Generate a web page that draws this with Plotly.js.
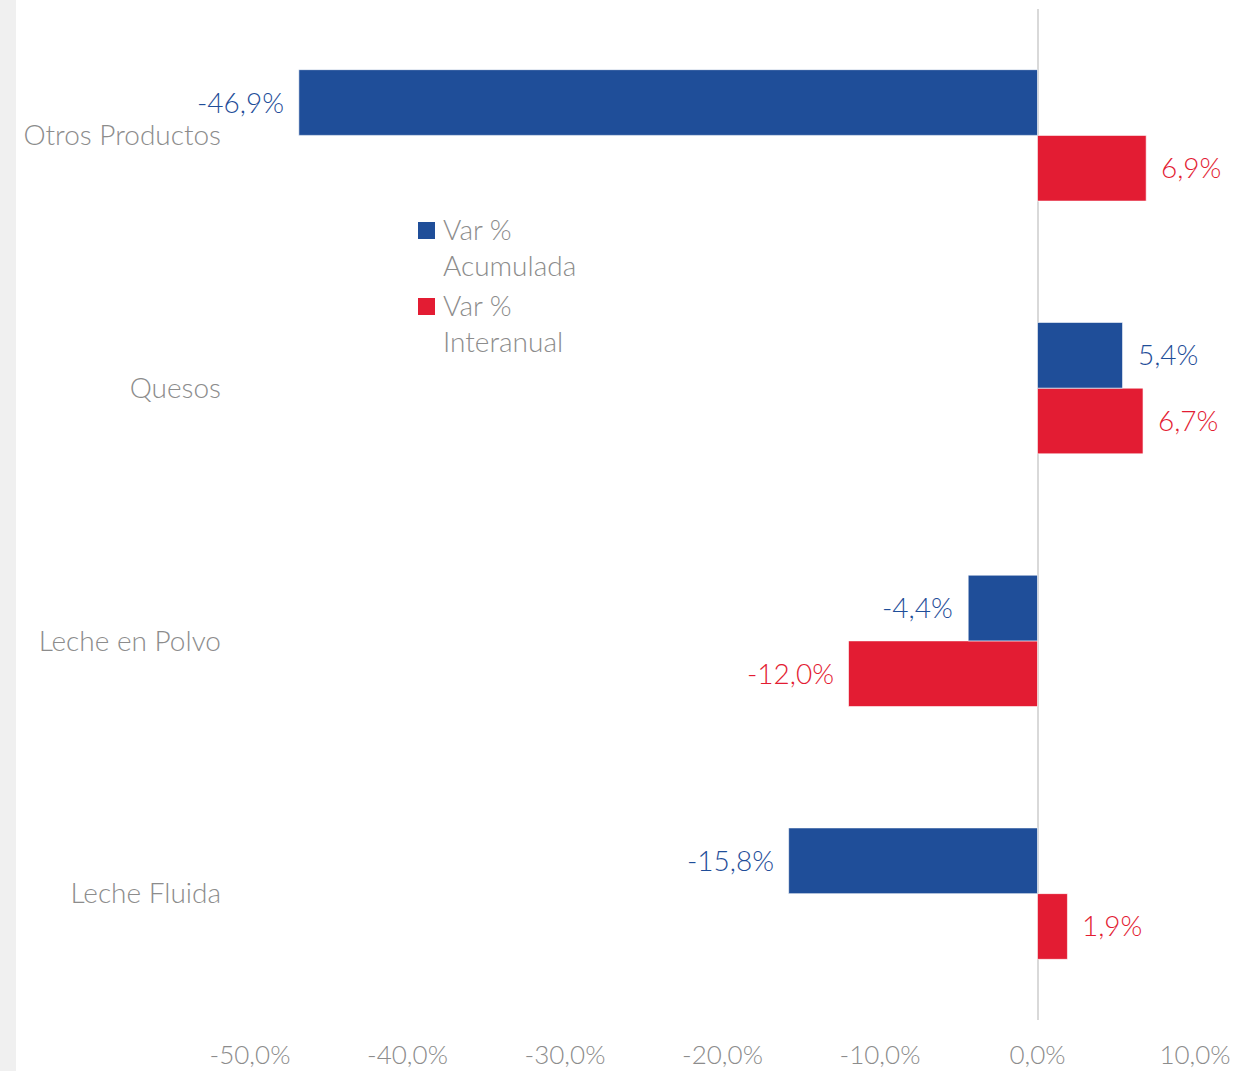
<!DOCTYPE html>
<html><head><meta charset="utf-8">
<script src="https://cdn.plot.ly/plotly-3.0.1.min.js"></script>
<style>
html,body{margin:0;padding:0;background:#fff;}
#strip{position:absolute;left:0;top:0;width:16px;height:1071px;background:#F0F0F0;z-index:2;}
#chart{position:absolute;left:0;top:0;width:1251px;height:1071px;}
</style></head>
<body>
<div id="strip"></div>
<div id="chart"></div>
<script>
const categories = ['Otros Productos', 'Quesos', 'Leche en Polvo', 'Leche Fluida'];
const varAcumulada = [-46.9, 5.4, -4.4, -15.8];
const varInteranual = [6.9, 6.7, -12.0, 1.9];
const seriesNames = ['Var %<br>Acumulada', 'Var %<br>Interanual'];
const colors = ['#1F4E99', '#E31C33'];
const xTicks = [-50, -40, -30, -20, -10, 0, 10];

const FONT = 'Lato, "Open Sans", sans-serif';
const GRAY = '#8C8C8C';
const bargap = 0.48;
const half = (1 - bargap) / 4;

const W = 1251, H = 1071;
const M = {l: 250, r: 56, t: 9, b: 51};

const yOrder = categories.slice().reverse();

function fmt(v){ return v.toFixed(1).replace('.', ',') + '%'; }

const traceRed = {
  type: 'bar', orientation: 'h', name: seriesNames[1],
  y: categories, x: varInteranual,
  marker: {color: colors[1], line: {color: 'rgba(255,255,255,0.6)', width: 1}},
  showlegend: false, hoverinfo: 'x'
};
const traceBlue = {
  type: 'bar', orientation: 'h', name: seriesNames[0],
  y: categories, x: varAcumulada,
  marker: {color: colors[0], line: {color: 'rgba(255,255,255,0.6)', width: 1}},
  showlegend: false, hoverinfo: 'x'
};

const annotations = [];
categories.forEach((c, i) => {
  const idx = yOrder.indexOf(c);
  [[varAcumulada[i], idx + half, colors[0]], [varInteranual[i], idx - half, colors[1]]].forEach(([v, yy, col]) => {
    annotations.push({
      x: v, y: yy, xref: 'x', yref: 'y', text: fmt(v), showarrow: false,
      xanchor: v < 0 ? 'right' : 'left', yanchor: 'middle',
      xshift: v < 0 ? -13 : 13, yshift: 1,
      font: {family: FONT, size: 28, color: col, weight: 300}
    });
  });
});

// custom legend (pixel -> paper)
const px = x => (x - M.l) / (W - M.l - M.r);
const py = y => 1 - (y - M.t) / (H - M.t - M.b);
const shapes = [];
const legendTops = [222, 298];
seriesNames.forEach((name, k) => {
  const top = legendTops[k];
  shapes.push({type: 'rect', xref: 'paper', yref: 'paper',
    x0: px(418), x1: px(435), y0: py(top), y1: py(top + 17),
    fillcolor: colors[k], line: {width: 0}});
  annotations.push({xref: 'paper', yref: 'paper', x: px(441), y: py(top - 12),
    xanchor: 'left', yanchor: 'top', align: 'left', showarrow: false,
    text: name, font: {family: FONT, size: 28, color: GRAY, weight: 300}});
});

const layout = {
  width: W, height: H,
  margin: M,
  paper_bgcolor: '#fff', plot_bgcolor: '#fff',
  separators: ',.',
  barmode: 'group', bargap: bargap, bargroupgap: 0,
  font: {family: FONT, color: GRAY, weight: 300},
  showlegend: false,
  xaxis: {
    range: [-50, 10], tickmode: 'array', tickvals: xTicks,
    ticktext: xTicks.map(fmt),
    showgrid: false, zeroline: true, zerolinecolor: '#D9D9D9', zerolinewidth: 2,
    showline: false, ticks: '',
    tickfont: {family: FONT, size: 26, color: GRAY, weight: 300},
    ticklabelstandoff: 17
  },
  yaxis: {
    categoryorder: 'array', categoryarray: yOrder,
    showgrid: false, zeroline: false, showline: false, ticks: '',
    tickfont: {family: FONT, size: 28, color: GRAY, weight: 300},
    ticklabelstandoff: 28
  },
  shapes: shapes,
  annotations: annotations
};

Plotly.newPlot('chart', [traceRed, traceBlue], layout, {displayModeBar: false, staticPlot: true});
</script>
</body></html>
